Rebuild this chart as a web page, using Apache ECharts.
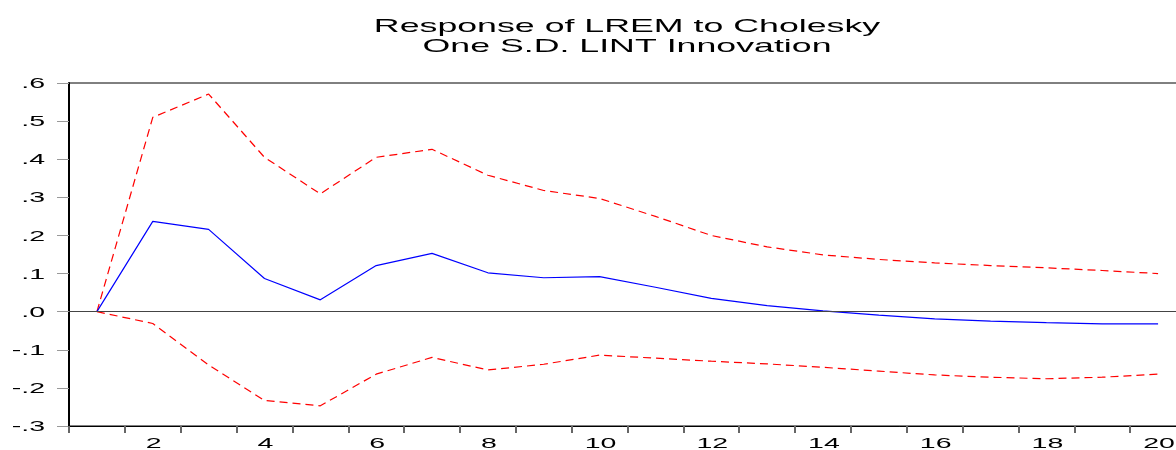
<!DOCTYPE html>
<html>
<head>
<meta charset="utf-8">
<script src="https://cdn.jsdelivr.net/npm/echarts@6/dist/echarts.min.js"></script>
<style>
html,body{margin:0;padding:0;background:#fff;}
#chart{width:1176px;height:450px;}
</style>
</head>
<body>
<div id="chart"></div>
<script>
var periods = ['1','2','3','4','5','6','7','8','9','10','11','12','13','14','15','16','17','18','19','20'];
var response = [0, 0.237, 0.216, 0.087, 0.031, 0.121, 0.153, 0.102, 0.089, 0.092, 0.064, 0.035, 0.016, 0.002, -0.009, -0.019, -0.025, -0.029, -0.032, -0.032];
var upperBand = [0, 0.510, 0.571, 0.405, 0.309, 0.405, 0.426, 0.358, 0.318, 0.297, 0.250, 0.200, 0.170, 0.149, 0.137, 0.128, 0.121, 0.115, 0.108, 0.100];
var lowerBand = [0, -0.031, -0.140, -0.233, -0.247, -0.164, -0.120, -0.153, -0.138, -0.114, -0.122, -0.130, -0.137, -0.146, -0.156, -0.166, -0.172, -0.176, -0.172, -0.164];
var titleLines = ['Response of LREM to Cholesky', 'One S.D. LINT Innovation'];
var yTickValues = [0.6, 0.5, 0.4, 0.3, 0.2, 0.1, 0, -0.1, -0.2, -0.3];
var yTickLabels = ['.6', '.5', '.4', '.3', '.2', '.1', '.0', '-.1', '-.2', '-.3'];
var xTickLabels = ['2', '4', '6', '8', '10', '12', '14', '16', '18', '20'];

var chart = echarts.init(document.getElementById('chart'), null, {renderer: 'canvas'});
var fontFam = '"Liberation Sans", Arial, sans-serif';
var STRETCH = 1.9;

var option = {
  animation: false,
  backgroundColor: '#ffffff',
  grid: {left: 69, top: 83, width: 1117, height: 343, containLabel: false, outerBoundsMode: 'none',
         show: true, borderColor: '#000', borderWidth: 1, backgroundColor: 'transparent'},
  xAxis: {
    type: 'category',
    data: periods,
    boundaryGap: true,
    axisLine: {show: true, onZero: false, lineStyle: {color: '#000', width: 1}},
    axisTick: {show: true, interval: 0, length: 7, lineStyle: {color: '#666', width: 2}},
    axisLabel: {show: false},
    splitLine: {show: false}
  },
  yAxis: {
    type: 'value',
    min: -0.3, max: 0.6, interval: 0.1,
    axisLine: {show: true, onZero: false, lineStyle: {color: '#000', width: 2}},
    axisTick: {show: true, length: 12, lineStyle: {color: '#999', width: 1}},
    axisLabel: {show: false},
    splitLine: {show: false}
  },
  series: [
    {
      type: 'line', data: response, symbol: 'none',
      lineStyle: {color: '#0000ff', width: 1.2},
      markLine: {
        silent: true, symbol: 'none', label: {show: false},
        lineStyle: {color: '#444', type: 'solid', width: 1},
        data: [{yAxis: 0}]
      },
      z: 3
    },
    {
      type: 'line', data: upperBand, symbol: 'none',
      lineStyle: {color: '#ff0000', width: 1.2, type: [8, 5]}, z: 2
    },
    {
      type: 'line', data: lowerBand, symbol: 'none',
      lineStyle: {color: '#ff0000', width: 1.2, type: [8, 5]}, z: 2
    }
  ]
};
chart.setOption(option);

var gfx = [];
gfx.push({type: 'text', x: 627, y: 27, scaleX: 1.88, silent: true,
  style: {text: titleLines[0], textAlign: 'center', textVerticalAlign: 'middle', font: '19px ' + fontFam, fill: '#000'}});
gfx.push({type: 'text', x: 627, y: 47, scaleX: 1.88, silent: true,
  style: {text: titleLines[1], textAlign: 'center', textVerticalAlign: 'middle', font: '19px ' + fontFam, fill: '#000'}});
for (var i = 0; i < yTickValues.length; i++) {
  var py = chart.convertToPixel({yAxisIndex: 0}, yTickValues[i]);
  gfx.push({type: 'text', x: 45, y: py + 1, scaleX: STRETCH, silent: true,
    style: {text: yTickLabels[i], textAlign: 'right', textVerticalAlign: 'middle', font: '15px ' + fontFam, fill: '#000'}});
}
for (var j = 0; j < xTickLabels.length; j++) {
  var px = chart.convertToPixel({xAxisIndex: 0}, xTickLabels[j]);
  gfx.push({type: 'text', x: px + 1, y: 444, scaleX: STRETCH, silent: true,
    style: {text: xTickLabels[j], textAlign: 'center', textVerticalAlign: 'middle', font: '15px ' + fontFam, fill: '#000'}});
}
chart.setOption({graphic: {elements: gfx}});
</script>
</body>
</html>
